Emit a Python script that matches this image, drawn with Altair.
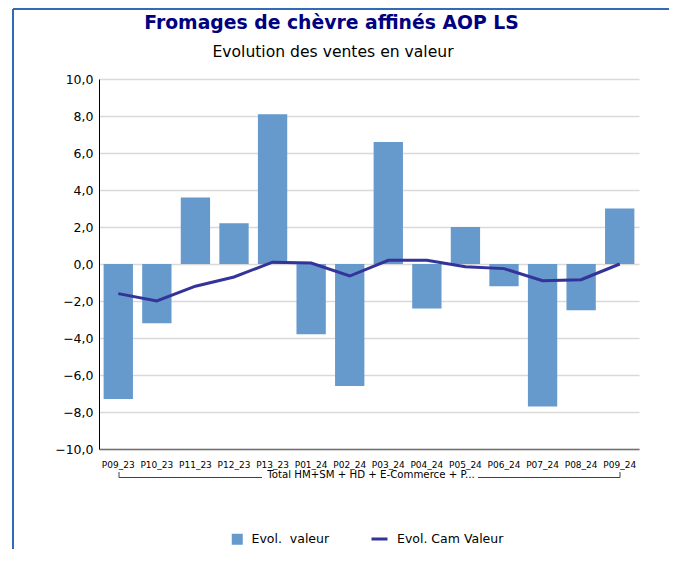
import altair as alt
import pandas as pd

periods = ["P09_23", "P10_23", "P11_23", "P12_23", "P13_23", "P01_24", "P02_24",
           "P03_24", "P04_24", "P05_24", "P06_24", "P07_24", "P08_24", "P09_24"]
evol_valeur = [-7.3, -3.2, 3.6, 2.2, 8.1, -3.8, -6.6, 6.6, -2.4, 2.0, -1.2, -7.7, -2.5, 3.0]
evol_cam = [-1.6, -2.0, -1.2, -0.7, 0.1, 0.05, -0.65, 0.2, 0.2, -0.15, -0.25, -0.9, -0.85, 0.0]

title_text = "Fromages de chèvre affinés AOP LS"
subtitle_text = "Evolution des ventes en valeur"
group_text = "Total HM+SM + HD + E-Commerce + P..."
serie_bar = "Evol.\u00a0 valeur"
serie_line = "Evol. Cam Valeur"

FONT = "DejaVu Sans"

df = pd.DataFrame({"periode": periods, "valeur": evol_valeur, "cam": evol_cam})

x_enc = alt.X("periode:N", sort=periods,
              scale=alt.Scale(paddingInner=0.24, paddingOuter=0.12),
              axis=alt.Axis(title=None, labelAngle=0, labelFont=FONT, labelFontSize=9,
                            labelColor="#000000", ticks=False, tickSize=0, labelPadding=11,
                            domainColor="#707070", domainWidth=1.5, grid=False))

y_axis = alt.Axis(title=None, values=list(range(-10, 11, 2)),
                  labelExpr="replace(format(datum.value, '.1f'), '.', ',')",
                  labelFont=FONT, labelFontSize=12.5, labelColor="#000000",
                  ticks=False, tickSize=0, labelPadding=6,
                  domainColor="#000000", domainWidth=1,
                  gridColor="#d9d9d9", gridWidth=1.5)
y_scale = alt.Scale(domain=[-10, 10], nice=False)

base = alt.Chart(df)

bars = base.mark_bar().transform_calculate(s1=f"'{serie_bar}'").encode(
    x=x_enc,
    y=alt.Y("valeur:Q", scale=y_scale, axis=y_axis),
    fill=alt.Fill("s1:N", scale=alt.Scale(domain=[serie_bar], range=["#6699CC"]),
                  legend=alt.Legend(orient="none", legendX=132, legendY=454, title=None,
                                    symbolType="square", symbolSize=121, symbolStrokeWidth=0,
                                    labelFont=FONT, labelFontSize=12.5, labelColor="#000000",
                                    labelOffset=8, padding=0)),
)

line = base.mark_line(strokeWidth=3).transform_calculate(s2=f"'{serie_line}'").encode(
    x=x_enc,
    y=alt.Y("cam:Q", scale=y_scale, axis=y_axis),
    stroke=alt.Stroke("s2:N", scale=alt.Scale(domain=[serie_line], range=["#333399"]),
                      legend=alt.Legend(orient="none", legendX=271, legendY=450.5, title=None,
                                        symbolType="stroke", symbolSize=256, symbolStrokeWidth=3,
                                        labelFont=FONT, labelFontSize=12.5, labelColor="#000000",
                                        labelOffset=8, padding=0)),
)

one = alt.Data(values=[{}])

title_mark = alt.Chart(one).mark_text(text=title_text, font=FONT, fontSize=18.8, fontWeight="bold",
                                      color="#000080", align="center", baseline="middle").encode(
    x=alt.value(232.5), y=alt.value(-56))
subtitle_mark = alt.Chart(one).mark_text(text=subtitle_text, font=FONT, fontSize=15.6,
                                         color="#000000", align="center", baseline="middle").encode(
    x=alt.value(234), y=alt.value(-27))
group_mark = alt.Chart(one).mark_text(text=group_text, font=FONT, fontSize=10.2,
                                      color="#000000", align="center", baseline="alphabetic").encode(
    x=alt.value(272), y=alt.value(399))

br_color = "#404040"
br1 = alt.Chart(one).mark_rule(color=br_color, strokeWidth=1).encode(
    x=alt.value(20), x2=alt.value(163), y=alt.value(398.5))
br2 = alt.Chart(one).mark_rule(color=br_color, strokeWidth=1).encode(
    x=alt.value(379), x2=alt.value(521), y=alt.value(398.5))
br3 = alt.Chart(one).mark_rule(color=br_color, strokeWidth=1).encode(
    x=alt.value(20), y=alt.value(393), y2=alt.value(398.5))
br4 = alt.Chart(one).mark_rule(color=br_color, strokeWidth=1).encode(
    x=alt.value(521), y=alt.value(393), y2=alt.value(398.5))

frame_color = "#2F6CB5"
fr1 = alt.Chart(one).mark_rule(color=frame_color, strokeWidth=2).encode(
    x=alt.value(-86), x2=alt.value(570), y=alt.value(-70))
fr2 = alt.Chart(one).mark_rule(color=frame_color, strokeWidth=2).encode(
    x=alt.value(-86), y=alt.value(-70), y2=alt.value(470))

chart = alt.layer(bars, line, title_mark, subtitle_mark, group_mark,
                  br1, br2, br3, br4, fr1, fr2).resolve_scale(
    fill="independent", stroke="independent"
).properties(
    width=540, height=370,
    autosize=alt.AutoSizeParams(type="none"),
    padding={"left": 91, "top": 71, "right": 30, "bottom": 100},
).configure_view(stroke=None)

chart.save("out.html", embed_options={"renderer": "svg", "actions": False})
